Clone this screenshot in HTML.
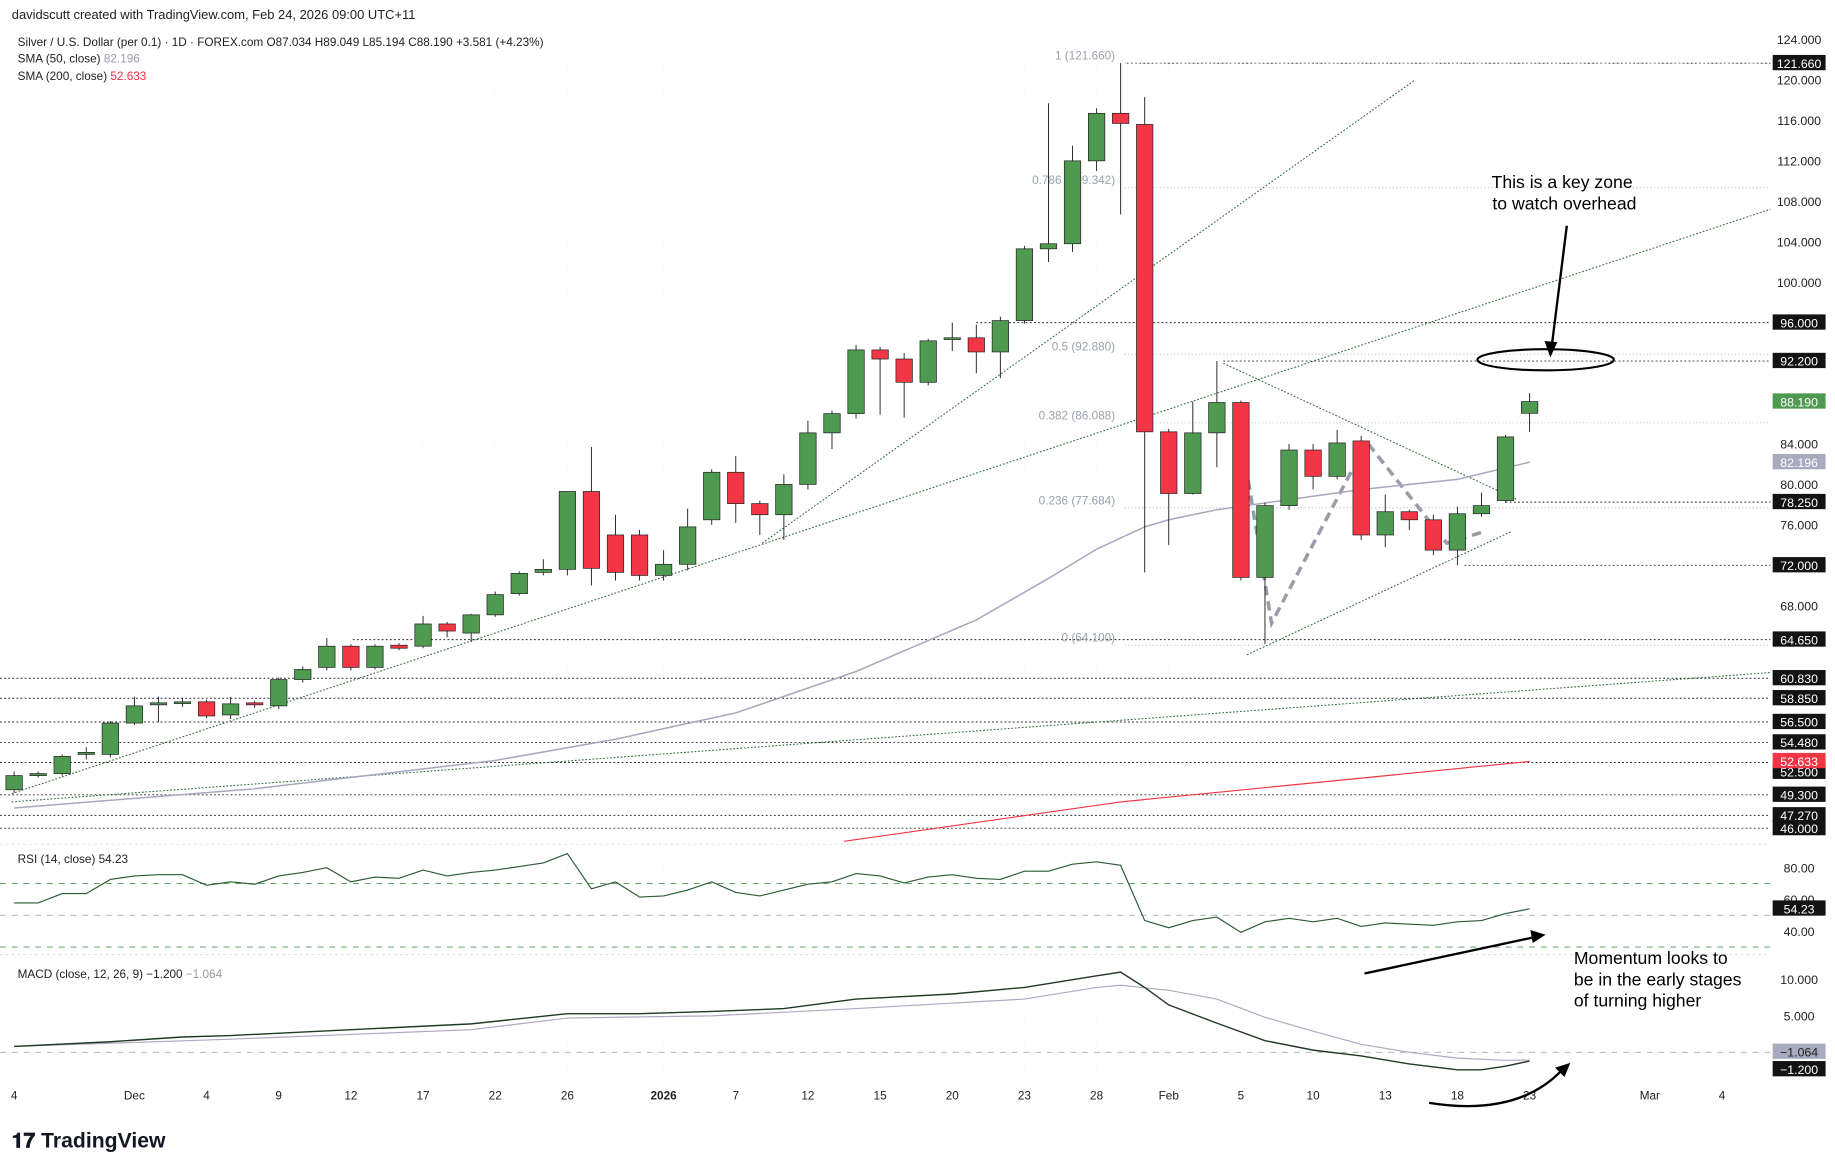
<!DOCTYPE html>
<html><head><meta charset="utf-8"><style>
html,body{margin:0;padding:0;background:#fff;width:1835px;height:1164px;overflow:hidden}
svg{display:block}
text{font-family:"Liberation Sans",sans-serif}
</style></head><body>
<svg id="chart" width="1835" height="1164" viewBox="0 0 1560 990" preserveAspectRatio="none" xmlns="http://www.w3.org/2000/svg">
<rect x="0" y="0" width="1560" height="990" fill="#fff"/>
<g id="grid"></g>
<g id="levels"></g>
<g id="fib"></g>
<g id="trend"></g>
<g id="sma"></g>
<g id="candles"></g>
<g id="ind"></g>
<g id="axis"></g>
<g id="annot">
 <text x="10" y="16" font-size="11" fill="#222">davidscutt created with TradingView.com, Feb 24, 2026 09:00 UTC+11</text>
 <text x="15" y="39" font-size="10" fill="#222">Silver / U.S. Dollar (per 0.1) · 1D · FOREX.com  O87.034  H89.049  L85.194  C88.190  +3.581 (+4.23%)</text>
 <text x="15" y="53" font-size="10" fill="#222">SMA (50, close) <tspan fill="#9a9aae">82.196</tspan></text>
 <text x="15" y="68" font-size="10" fill="#222">SMA (200, close) <tspan fill="#e83040">52.633</tspan></text>
 <text x="15" y="734" font-size="10" fill="#222">RSI (14, close)  54.23</text>
 <text x="15" y="832" font-size="10" fill="#222">MACD (close, 12, 26, 9)  −1.200  <tspan fill="#999">−1.064</tspan></text>
 <text x="1328" y="160" font-size="15" text-anchor="middle" fill="#000">This is a key zone</text>
 <text x="1330" y="178" font-size="15" text-anchor="middle" fill="#000">to watch overhead</text>
 <ellipse cx="1314" cy="306" rx="58" ry="9" fill="none" stroke="#000" stroke-width="1.8"/>
 <line x1="1332" y1="192" x2="1319" y2="296" stroke="#000" stroke-width="2"/>
 <polygon points="1318,304 1313,290 1324,291" fill="#000"/>
 <text x="1338" y="820" font-size="15" fill="#000">Momentum looks to</text>
 <text x="1338" y="838" font-size="15" fill="#000">be in the early stages</text>
 <text x="1338" y="856" font-size="15" fill="#000">of turning higher</text>
 <line x1="1160" y1="828" x2="1305" y2="797" stroke="#000" stroke-width="2"/>
 <polygon points="1314,795 1301,791 1303,802" fill="#000"/>
 <path d="M1215,938 Q1290,950 1328,910" fill="none" stroke="#000" stroke-width="2"/>
 <polygon points="1335,904 1322,908 1330,916" fill="#000"/>
 <text x="10" y="976" font-size="18" font-weight="bold" fill="#131722">𝟏𝟕 TradingView</text>
</g>
</svg>
<script>
const opens=[49.8,51.2,51.4,53.3,53.3,56.4,58.2,58.4,58.5,57.2,58.4,58.1,60.7,61.9,64.0,61.9,64.1,64.0,66.2,65.3,67.1,69.2,71.3,71.6,79.3,75.0,75.0,71.0,72.1,76.5,81.2,78.1,77.0,80.0,85.1,87.0,93.3,92.4,90.1,94.4,94.5,93.1,96.2,103.3,103.8,112.0,116.7,115.6,85.2,79.1,85.1,88.1,70.8,77.9,83.4,80.8,84.3,75.0,77.3,76.5,73.5,77.1,78.4,87.034];
const closes=[51.2,51.4,53.1,53.5,56.4,58.1,58.4,58.5,57.1,58.3,58.2,60.7,61.7,64.0,61.9,64.0,63.8,66.2,65.5,67.1,69.1,71.2,71.6,79.3,71.7,71.3,71.0,72.1,75.8,81.2,78.1,77.0,80.0,85.1,87.0,93.3,92.4,90.1,94.2,94.5,93.1,96.2,103.3,103.8,112.0,116.7,115.7,85.2,79.1,85.1,88.1,70.8,77.9,83.4,80.8,84.1,75.0,77.3,76.5,73.5,77.1,77.9,84.7,88.19];
const highs=[51.6,51.6,53.3,54.0,56.6,59.0,59.0,58.9,58.7,59.0,58.6,60.9,62.0,64.8,64.2,64.2,64.3,67.0,66.4,67.2,69.4,71.4,72.6,79.3,83.7,77.0,75.5,73.5,77.6,81.5,82.8,78.4,81.0,86.3,87.3,93.8,93.6,93.0,94.4,96.0,95.8,96.6,103.6,117.7,113.5,117.2,121.66,118.3,85.5,88.2,92.2,88.3,78.2,84.0,84.0,85.4,84.8,79.0,77.5,77.0,77.8,79.2,84.9,89.049];
const lows=[49.5,51.0,51.2,52.8,53.0,56.2,56.5,58.0,56.9,56.8,57.9,57.8,60.4,61.6,61.6,61.7,63.6,63.8,64.9,64.4,66.9,69.0,71.0,71.0,70.0,70.5,70.5,70.5,71.5,76.0,76.2,75.0,74.5,79.5,83.5,86.5,86.9,86.6,89.8,93.2,91.0,90.5,95.9,102.0,103.0,111.0,106.7,71.3,74.0,79.0,81.7,70.5,64.2,77.5,79.5,80.5,74.5,73.8,75.5,73.0,72.0,76.8,78.2,85.194];
const sma50Idx=[0,10,20,25,30,35,40,43,45,47,48,50,53,56,60,63];
const sma50Val=[48.0,49.9,52.7,54.8,57.4,61.5,66.6,70.7,73.6,75.8,76.5,77.5,78.5,79.5,80.5,82.2];
const sma200Idx=[34.5,46,63];
const sma200Val=[44.7,48.6,52.6];
const rsiVals=[57.8,57.8,63.7,63.7,72.6,74.8,75.6,75.6,68.9,71.1,69.6,74.8,77,80,71.1,74.1,73.3,78.5,74.8,77,78.5,80.7,83,88.9,66.7,71.1,61.5,62.2,65.9,71.1,64.4,62.2,65.9,69.6,71.1,76.3,74.8,70.4,74.1,75.6,73.3,72.6,77.8,77.8,82.2,83.7,81.5,46.7,42.2,46.7,48.9,39.3,45.9,48.1,45.9,48.1,43,45.2,44.4,43.7,45.9,46.7,51.1,54.1];
const macdIdx=[0,4,7,9,14,19,23,26,29,32,35,39,42,45,46,47,48,50,52,54,56,58,60,61,62,63];
const macdVal=[0.8,1.45,2.1,2.3,3.1,3.9,5.3,5.3,5.6,6.0,7.3,8.0,8.9,10.5,11.0,8.9,6.5,4.0,1.6,0.3,-0.5,-1.6,-2.4,-2.4,-1.9,-1.2];
const sigIdx=[0,9,19,23,29,35,42,45,46,48,50,52,54,56,58,60,62,63];
const sigVal=[0.8,1.8,3.1,4.7,5.0,6.0,7.3,8.9,9.2,8.5,7.3,4.8,2.9,1.1,0,-0.8,-1.1,-1.064];
const priceTicks=[124,120,116,112,108,104,100,84,80,76,68];
const levelVals=[121.66,96,92.2,78.25,72,64.65,60.83,58.85,56.5,54.48,52.5,49.3,47.27,46];
const levelStart=[958,830,1040,1280,1245,300,0,0,0,0,0,0,0,0];
const fibLabels=["1 (121.660)","0.786 (109.342)","0.5 (92.880)","0.382 (86.088)","0.236 (77.684)","0 (64.100)"];
const fibVals=[121.66,109.342,92.88,86.088,77.684,64.1];
const xLabels=["4","Dec","4","9","12","17","22","26","2026","7","12","15","20","23","28","Feb","5","10","13","18","23","Mar","4"];
const xLabelIdx=[0,5,8,11,14,17,20,23,27,30,33,36,39,42,45,48,51,54,57,60,63,68,71];

const NS="http://www.w3.org/2000/svg";
const X=i=>12+i*20.45;
const Y=p=>240-(p-100)*8.6;
const RY=v=>738-(v-80)*1.35;
const MY=v=>895-v*6.2;
function mk(tag,attrs,parent){const e=document.createElementNS(NS,tag);for(const k in attrs)e.setAttribute(k,attrs[k]);document.getElementById(parent).appendChild(e);return e;}

for(let i=0;i<xLabelIdx.length;i++){const g=mk('line',{x1:X(xLabelIdx[i]),x2:X(xLabelIdx[i]),y1:30,y2:915,stroke:'#eef0f3','stroke-width':0.6,'stroke-dasharray':'1 4'},'grid');

}
[718,812].forEach(y=>{const s=mk('line',{x1:0,x2:1505,y1:y,y2:y,stroke:'#ccc','stroke-dasharray':'2 3','stroke-width':0.6},'grid');

});

levelVals.forEach((v,i)=>{const l=mk('line',{x1:levelStart[i],x2:1505,y1:Y(v),y2:Y(v),stroke:'#222','stroke-width':0.8,'stroke-dasharray':'1.5 2'},'levels');

});
fibVals.forEach((v,i)=>{const l=mk('line',{x1:956,x2:1505,y1:Y(v),y2:Y(v),stroke:'#b0b4be','stroke-width':0.7,'stroke-dasharray':'1 2'},'fib');


const t=mk('text',{x:948,y:Y(v)-3,'font-size':10,'text-anchor':'end',fill:'#9aa0ab'},'fib');t.textContent=fibLabels[i];

});

const tl=[[10,675,1505,178],[648,462,1203,68],[10,682,1505,572],[1040,309,1290,425],[1060,557,1285,452]];
tl.forEach(a=>{const l=mk('line',{x1:a[0],y1:a[1],x2:a[2],y2:a[3],stroke:'#2f6b3a','stroke-width':0.9,'stroke-dasharray':'1.5 1.5'},'trend');

});
const dp=mk('polyline',{points:'1057,383 1081,530 1162,376 1230,462 1262,452',fill:'none',stroke:'#9a9ca8','stroke-width':3,'stroke-dasharray':'8 5'},'trend');



const s50=mk('polyline',{points:sma50Idx.map((d,i)=>X(d)+','+Y(sma50Val[i])).join(' '),fill:'none',stroke:'#a7a8c0','stroke-width':1.3},'sma');


const s200=mk('polyline',{points:sma200Idx.map((d,i)=>X(d)+','+Y(sma200Val[i])).join(' '),fill:'none',stroke:'#f23645','stroke-width':1},'sma');



opens.forEach((o,i)=>{const c=closes[i],up=c>=o,x=X(i);
const w=mk('line',{x1:x,x2:x,y1:Y(highs[i]),y2:Y(lows[i]),stroke:'#222','stroke-width':0.8},'candles');


const top=Y(Math.max(o,c)),h=Math.max(1.5,Math.abs(Y(o)-Y(c)));
const b=mk('rect',{x:x-7,y:top,width:14,height:h,fill:up?'#4e9a50':'#f23645',stroke:'#222','stroke-width':0.6},'candles');

});

[[70,'#4c9a52'],[50,'#aaa'],[30,'#4c9a52']].forEach(a=>{const l=mk('line',{x1:0,x2:1505,y1:RY(a[0]),y2:RY(a[0]),stroke:a[1],'stroke-width':0.8,'stroke-dasharray':'5 5'},'ind');

});
const rl=mk('polyline',{points:rsiVals.map((v,i)=>X(i)+','+RY(v)).join(' '),fill:'none',stroke:'#2d5a33','stroke-width':1},'ind');


const z=mk('line',{x1:0,x2:1505,y1:MY(0),y2:MY(0),stroke:'#aaa','stroke-width':0.8,'stroke-dasharray':'5 5'},'ind');


const sl=mk('polyline',{points:sigIdx.map((d,i)=>X(d)+','+MY(sigVal[i])).join(' '),fill:'none',stroke:'#b0a8c0','stroke-width':1},'ind');


const ml=mk('polyline',{points:macdIdx.map((d,i)=>X(d)+','+MY(macdVal[i])).join(' '),fill:'none',stroke:'#1f3b24','stroke-width':1.2},'ind');



function lab(y,txt,bg,fg){if(bg){const r=mk('rect',{x:1507,y:y-7,width:45,height:13,fill:bg},'axis');

}
const t=mk('text',{x:1529.5,y:y+4,'font-size':10.5,'text-anchor':'middle',fill:fg},'axis');t.textContent=txt;

}
priceTicks.forEach(p=>lab(Y(p),p.toFixed(3),null,'#222'));
levelVals.forEach(v=>lab(v===52.5?Y(v)+8:Y(v),v.toFixed(3),'#131313','#fff'));
lab(Y(82.196),'82.196','#a8abbf','#fff');
lab(Y(88.19),'88.190','#4e9a50','#fff');
lab(Y(52.633),'52.633','#f23645','#fff');
[80,60,40].forEach(v=>lab(RY(v),v.toFixed(2),null,'#222'));
lab(RY(54.23),'54.23','#131313','#fff');
[10,5].forEach(v=>lab(MY(v),v.toFixed(3),null,'#222'));
lab(MY(-1.064)-7,'−1.064','#a8abbf','#222');
lab(MY(-1.2)+7,'−1.200','#131313','#fff');
xLabels.forEach((s,i)=>{const t=mk('text',{x:X(xLabelIdx[i]),y:935,'font-size':10,'text-anchor':'middle',fill:'#222','font-weight':s==='2026'?'bold':'normal'},'axis');t.textContent=s;

});
</script>
</body></html>
